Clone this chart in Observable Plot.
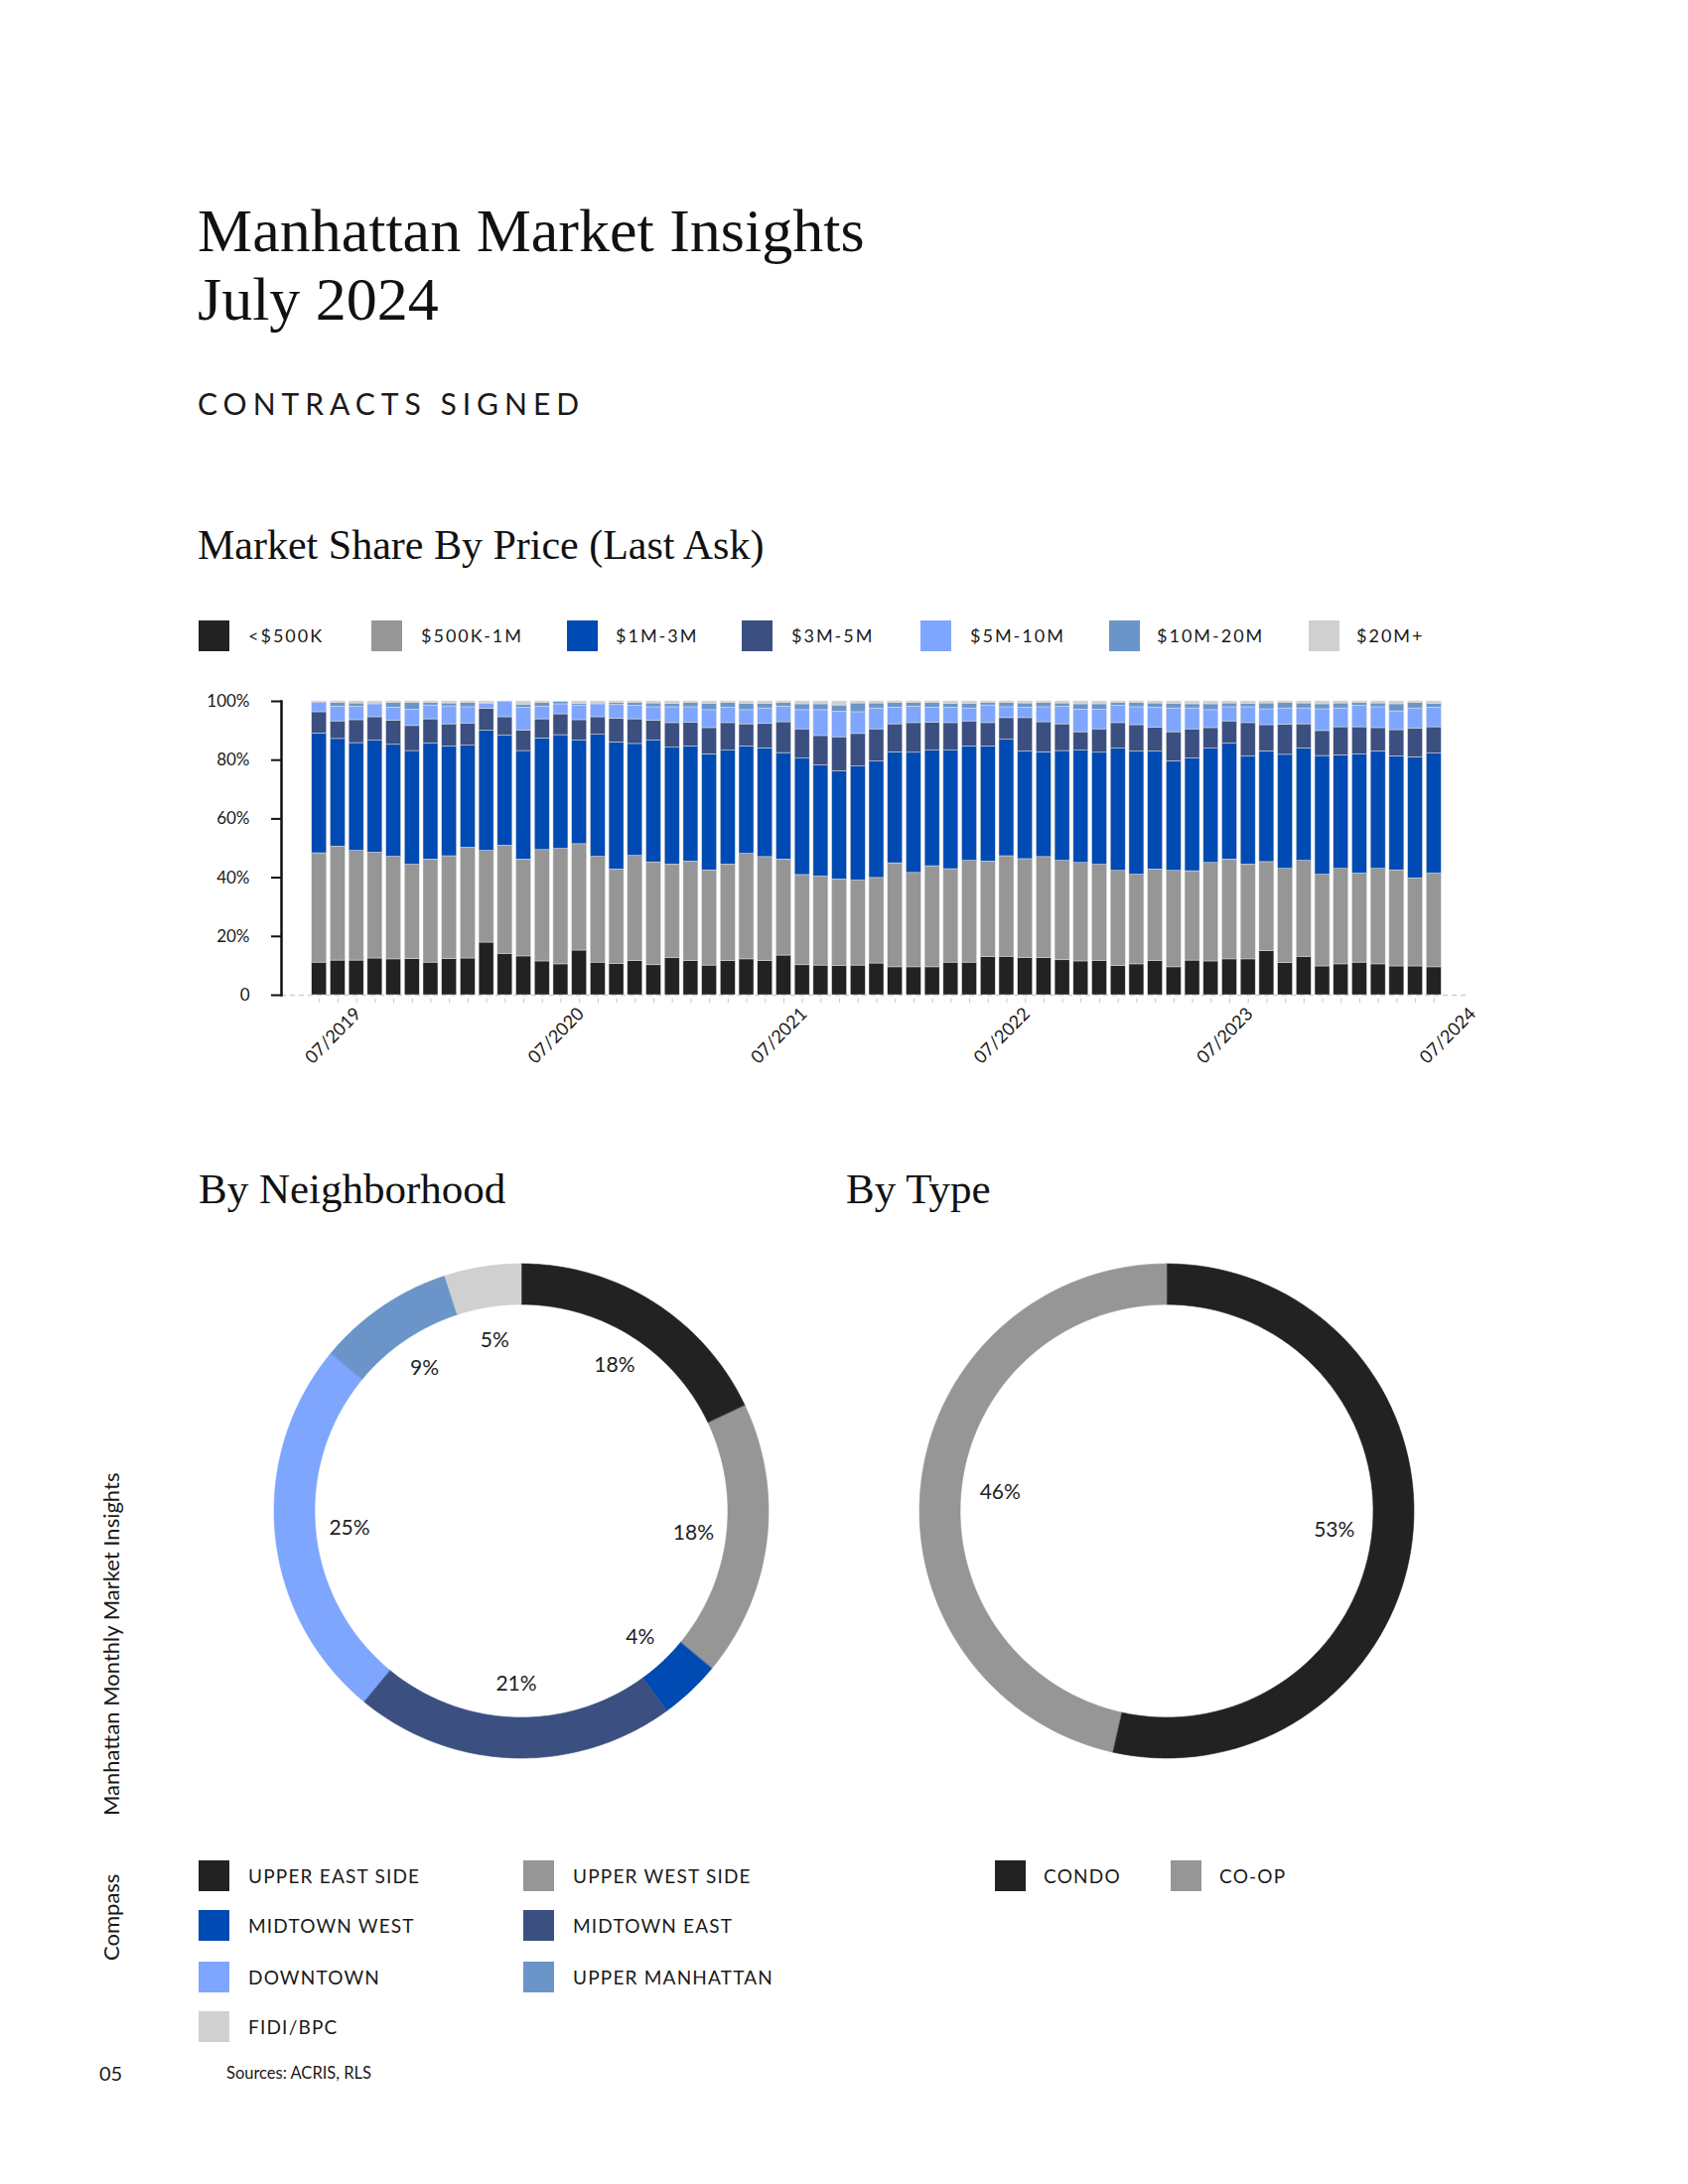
<!DOCTYPE html>
<html>
<head>
<meta charset="utf-8">
<script src="https://cdn.jsdelivr.net/npm/d3@7"></script>
<script src="https://cdn.jsdelivr.net/npm/@observablehq/plot@0.6"></script>
<style>
  body { margin: 0; background: #fff; }
  #page { position: relative; width: 1700px; height: 2200px; background: #fff; font-family: Lato, "Open Sans", sans-serif; color: #1a1a1a; overflow: hidden; }
  .abs { position: absolute; white-space: nowrap; }
  .serif { font-family: "Liberation Serif", "DejaVu Serif", serif; color: #111; }
  .sw { position: absolute; width: 31px; height: 31px; }
  .lg { position: absolute; font-size: 18px; letter-spacing: 2px; line-height: 31px; white-space: nowrap; color: #1a1a1a; }
  .lg2 { position: absolute; font-size: 19px; letter-spacing: 1.2px; line-height: 31px; white-space: nowrap; color: #1a1a1a; }
  .side { position: absolute; font-size: 22px; line-height: 22px; white-space: nowrap; transform-origin: 0 0; transform: rotate(-90deg); color: #1a1a1a; }
</style>
</head>
<body>
<div id="page">
  <div class="abs serif" style="left:199px; top:198px; font-size:62px; line-height:69px;">Manhattan Market Insights<br>July 2024</div>
  <div class="abs" style="left:199px; top:391px; font-size:30px; line-height:30px; letter-spacing:6px;">CONTRACTS SIGNED</div>
  <div class="abs serif" style="left:199px; top:528px; font-size:42px; line-height:42px;">Market Share By Price (Last Ask)</div>
  <div id="priceLegend"></div>
  <div id="bars" class="abs" style="left:180px; top:680px;"></div>
  <div class="abs serif" style="left:200px; top:1176px; font-size:43px; line-height:43px;">By Neighborhood</div>
  <div class="abs serif" style="left:852px; top:1176px; font-size:43px; line-height:43px;">By Type</div>
  <div id="donut1" class="abs" style="left:265px; top:1262px;"></div>
  <div id="donut2" class="abs" style="left:915px; top:1262px;"></div>
  <div id="hoodLegend"></div>
  <div id="typeLegend"></div>
  <div class="side" style="left:101px; top:1829px;">Manhattan Monthly Market Insights</div>
  <div class="side" style="left:101px; top:1975px;">Compass</div>
  <div class="abs" style="left:100px; top:2076px; font-size:20px; line-height:24px;">05</div>
  <div class="abs" style="left:228px; top:2078px; font-size:16.5px; line-height:20px;">Sources: ACRIS, RLS</div>
</div>
<script>
// ---------- DATA ----------
const priceCategories = ["<$500K", "$500K-1M", "$1M-3M", "$3M-5M", "$5M-10M", "$10M-20M", "$20M+"];
const priceColors = ["#222222", "#969696", "#004ab3", "#3b5080", "#7ea6fe", "#6b95c8", "#d0d0d0"];

const under500K = [11.1,11.8,11.8,12.5,12.2,12.3,11.1,12.3,12.5,17.9, 14.1,13.2,11.5,10.5,15.2,11.1,10.7,11.6,10.2,12.7, 11.6,10.1,11.6,12.2,11.6,13.5,10.2,10.1,9.9,10.1, 10.8,9.5,9.5,9.5,11.1,11.1,13.0,13.1,12.7,12.6, 11.9,11.5,11.7,9.9,10.5,11.7,9.5,11.8,11.5,12.2, 12.2,15.0,10.9,13.1,9.8,10.5,11.1,10.5,9.8,9.8,9.5];
const from500Kto1M = [37.2,38.8,37.3,36.0,34.9,32.1,35.1,35.0,37.7,31.2, 36.8,33.0,37.9,39.3,36.2,36.0,32.1,35.8,35.0,31.8, 33.9,32.4,32.9,35.9,35.4,32.7,30.7,30.3,29.5,28.9, 29.1,35.4,32.1,34.4,31.8,34.6,32.5,34.2,33.6,34.4, 33.8,33.5,32.7,32.4,30.5,31.1,32.8,30.4,33.5,34.0, 32.3,30.3,32.1,32.6,31.2,32.5,30.3,32.5,32.7,30.0,31.9];
const from1Mto3M = [40.8,36.6,36.7,38.1,38.1,38.7,39.4,37.3,34.7,40.9, 37.4,36.9,38.0,38.7,35.2,41.5,43.2,38.1,41.4,39.7, 39.1,39.5,38.7,36.5,37.0,36.2,39.6,37.8,36.8,38.8, 39.6,37.8,40.9,39.3,40.3,38.9,39.1,39.6,36.6,35.7, 37.4,38.2,38.1,41.6,41.9,40.1,37.3,38.4,38.9,39.4, 36.7,37.7,38.8,38.3,40.4,38.6,40.5,40.0,38.8,41.2,40.8];
const from3Mto5M = [7.2,6.0,7.8,8.0,8.2,8.5,8.3,7.6,7.6,7.5, 6.3,7.0,6.5,7.1,7.0,6.0,8.0,8.4,6.8,8.4, 8.1,8.9,9.4,7.6,8.3,10.5,10.0,10.0,11.6,11.1, 11.0,9.5,10.1,9.6,9.4,8.6,8.0,7.4,11.4,10.2, 9.1,6.3,8.0,8.7,9.0,8.2,9.9,9.9,7.0,7.6, 11.4,8.9,10.2,8.2,8.5,9.6,9.3,7.9,8.9,9.8,9.0];
const from5Mto10M = [3.2,5.0,4.6,4.4,4.5,5.6,4.7,6.1,5.5,1.7, 5.2,7.8,4.3,3.4,5.0,4.4,4.9,4.6,4.6,5.4, 5.3,6.1,5.3,4.8,5.3,5.3,6.5,8.8,8.7,7.4, 7.1,5.7,5.6,5.1,5.3,4.4,6.0,3.7,3.6,5.1, 6.0,7.7,6.7,5.9,6.1,6.8,8.1,7.1,6.1,4.8, 5.4,5.4,5.6,5.4,7.4,6.4,7.3,7.1,6.4,6.8,6.7];
const from10Mto20M = [0.3,1.3,1.1,0.3,1.6,2.3,0.9,1.0,1.5,0.3, 0.2,1.0,1.3,0.8,0.6,0.3,0.6,1.0,1.3,1.2, 1.5,2.2,1.6,2.2,1.6,1.3,2.0,2.0,2.1,3.0, 1.7,1.6,1.3,1.6,1.3,1.6,0.9,1.5,1.4,1.5, 1.1,1.8,1.8,1.0,1.5,1.4,1.6,1.4,2.0,1.3, 1.2,2.0,1.9,1.7,1.7,1.7,1.0,1.3,2.4,1.9,1.3];
const over20M = [0.2,0.5,0.7,0.7,0.5,0.5,0.5,0.7,0.5,0.5, 0.0,1.1,0.5,0.2,0.8,0.7,0.5,0.5,0.7,0.8, 0.5,0.8,0.5,0.8,0.8,0.5,1.0,1.0,1.4,0.7, 0.7,0.5,0.5,0.5,0.8,0.8,0.5,0.5,0.7,0.5, 0.7,1.0,1.0,0.5,0.5,0.7,0.8,1.0,1.0,0.7, 0.8,0.7,0.5,0.7,1.0,0.7,0.5,0.7,1.0,0.5,0.8];
const priceSeries = [under500K, from500Kto1M, from1Mto3M, from3Mto5M, from5Mto10M, from10Mto20M, over20M];

const firstMonth = "2019-07", lastMonth = "2024-07";
const xTickLabels = ["07/2019", "07/2020", "07/2021", "07/2022", "07/2023", "07/2024"];
const yTicks = [0, 0.2, 0.4, 0.6, 0.8, 1];

const neighborhoods = ["UPPER EAST SIDE", "UPPER WEST SIDE", "MIDTOWN WEST", "MIDTOWN EAST", "DOWNTOWN", "UPPER MANHATTAN", "FIDI/BPC"];
const neighborhoodShares = [18, 18, 4, 21, 25, 9, 5];
const neighborhoodColors = ["#222222", "#969696", "#004ab3", "#3b5080", "#7ea6fe", "#6b95c8", "#d0d0d0"];

const types = ["CONDO", "CO-OP"];
const typeShares = [53, 46];
const typeColors = ["#222222", "#969696"];

// ---------- BAR CHART ----------
const fmt = d3.utcFormat("%Y-%m");
const parse = d3.utcParse("%Y-%m");
const months = d3.utcMonths(parse(firstMonth), d3.utcMonth.offset(parse(lastMonth), 1)).map(fmt);
const rows = [];
priceCategories.forEach((c, ci) => months.forEach((m, mi) => rows.push({month: m, cat: c, value: priceSeries[ci][mi]})));
const labelKey = s => s.slice(3) + "-" + s.slice(0, 2);

const L = 180;
const bars = Plot.plot({
  width: 1320, height: 420,
  marginLeft: 103, marginRight: 20, marginTop: 26, marginBottom: 98,
  style: {fontFamily: "Lato, sans-serif", color: "#1a1a1a", background: "transparent", maxWidth: "none", overflow: "visible"},
  x: {type: "band", domain: months, range: [310 - L, 1455 - L], padding: 0.2, axis: null},
  y: {domain: [0, 1], axis: null},
  color: {domain: priceCategories, range: priceColors},
  marks: [
    Plot.ruleY([0], {stroke: "#cfcfcf", strokeWidth: 1.5, strokeDasharray: "5,4"}),
    Plot.barY(rows, {x: "month", y: "value", fill: "cat", order: priceCategories, offset: "normalize", stroke: "#e2e2e2", strokeWidth: 0.5}),
    Plot.ruleX(months, {x: d => d, y1: -0.012, y2: -0.028, stroke: "#c8c8c8", strokeWidth: 1}),
    Plot.axisY({ticks: yTicks, tickFormat: d => d === 0 ? "0" : Math.round(d * 100) + "%", tickSize: 10, tickPadding: 22, fontSize: 17, stroke: "#111", strokeWidth: 2, label: null}),
    Plot.frame({anchor: "left", stroke: "#111", strokeWidth: 2.5}),
    Plot.text(xTickLabels, {x: d => labelKey(d), text: d => d, frameAnchor: "bottom", dy: 45, dx: 18, rotate: -45, textAnchor: "middle", fontSize: 18, fill: "#1a1a1a"})
  ]
});
document.getElementById("bars").appendChild(bars);

// ---------- LEGENDS ----------
function legend(containerId, items, colors, swX, txX, swY, cls) {
  const el = document.getElementById(containerId);
  items.forEach((t, i) => {
    const s = document.createElement("div");
    s.className = "sw"; s.style.left = swX[i] + "px"; s.style.top = swY[i] + "px"; s.style.background = colors[i];
    const l = document.createElement("div");
    l.className = cls; l.style.left = txX[i] + "px"; l.style.top = swY[i] + "px"; l.textContent = t;
    el.appendChild(s); el.appendChild(l);
  });
}
legend("priceLegend", priceCategories, priceColors,
  [200, 374, 571, 747, 927, 1117, 1318], [250, 424, 620, 797, 977, 1165, 1366], Array(7).fill(625), "lg");
legend("hoodLegend", neighborhoods, neighborhoodColors,
  [200, 527, 200, 527, 200, 527, 200], [250, 577, 250, 577, 250, 577, 250], [1874, 1874, 1924, 1924, 1976, 1976, 2026], "lg2");
legend("typeLegend", types, typeColors, [1002, 1179], [1051, 1228], [1874, 1874], "lg2");

// ---------- DONUTS ----------
function donut(labels, values, colors, labelR) {
  const R = 1, r0 = 208 / 249, S = 260 / 249;
  const arcs = d3.pie().sort(null).value(d => d.value)(labels.map((l, i) => ({label: l, value: values[i]})));
  const pts = arcs.flatMap(a => d3.range(0, 81).map(k => {
    const t = a.startAngle + (a.endAngle - a.startAngle) * k / 80;
    return {label: a.data.label, x1: r0 * Math.sin(t), y1: r0 * Math.cos(t), x2: R * Math.sin(t), y2: R * Math.cos(t)};
  }));
  const mid = a => (a.startAngle + a.endAngle) / 2;
  return Plot.plot({
    width: 520, height: 520, margin: 0,
    style: {fontFamily: "Lato, sans-serif", background: "transparent", maxWidth: "none", overflow: "visible"},
    x: {domain: [-S, S], axis: null},
    y: {domain: [-S, S], axis: null},
    color: {domain: labels, range: colors},
    marks: [
      Plot.area(pts, {x1: "x1", y1: "y1", x2: "x2", y2: "y2", fill: "label", stroke: "label", strokeWidth: 0.6, z: "label"}),
      Plot.text(arcs, {x: a => labelR * Math.sin(mid(a)), y: a => labelR * Math.cos(mid(a)), text: a => a.data.value + "%", fontSize: 21, fill: "#222"})
    ]
  });
}
document.getElementById("donut1").appendChild(donut(neighborhoods, neighborhoodShares, neighborhoodColors, 0.70));
document.getElementById("donut2").appendChild(donut(types, typeShares, typeColors, 0.68));
</script>
</body>
</html>
